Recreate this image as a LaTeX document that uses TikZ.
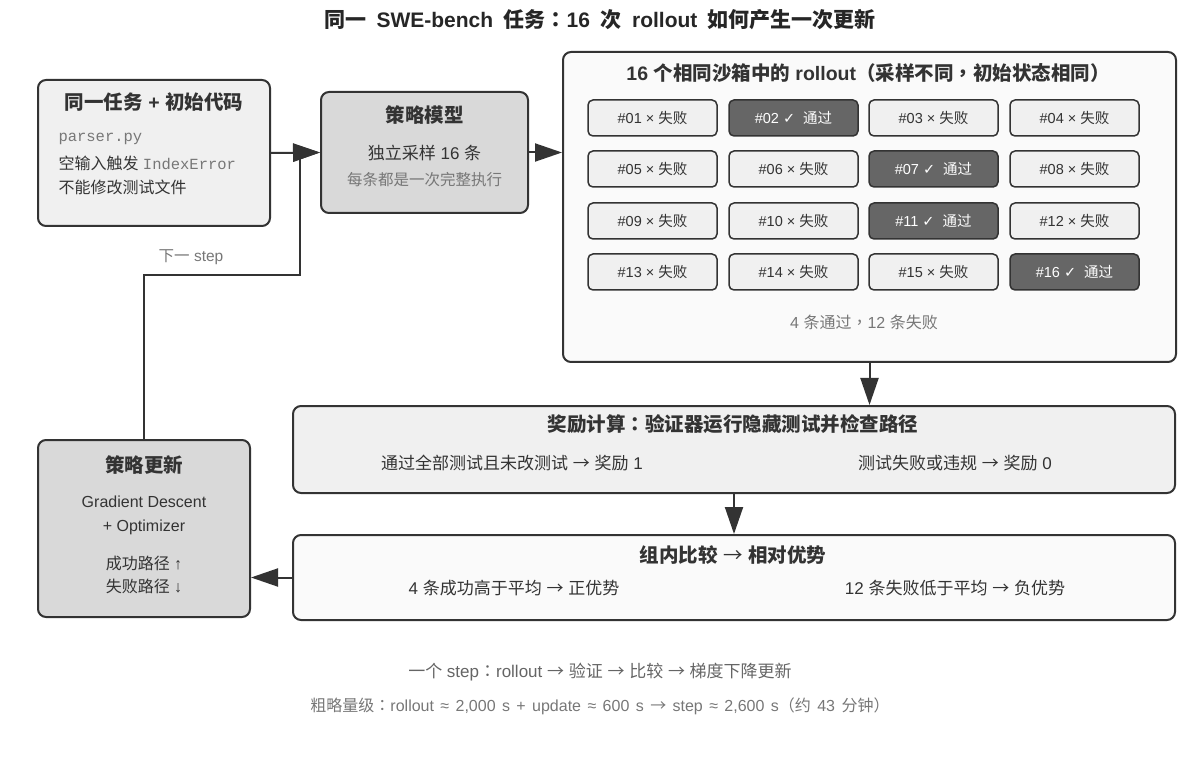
\documentclass[tikz,border=0pt]{standalone}
\usepackage{fontspec}
\setmainfont{Liberation Sans}
\setmonofont{Liberation Mono}
\newfontfamily\cjkfont{Noto Sans CJK SC}
\newfontfamily\punctfont{Noto Sans CJK TC}
\newfontfamily\symfont{DejaVu Sans}
\newcommand{\zh}[1]{{\cjkfont #1}}
\newcommand{\tox}{{\cjkfont\mdseries →}}
\newcommand{\zhcolon}{{\punctfont ：}}
\newcommand{\zhcomma}{{\punctfont ，}}
\usetikzlibrary{arrows.meta}

\definecolor{edge}{HTML}{333333}
\definecolor{boxfill}{HTML}{F0F0F0}
\definecolor{modelfill}{HTML}{D9D9D9}
\definecolor{panelfill}{HTML}{FAFAFA}
\definecolor{passfill}{HTML}{666666}
\definecolor{note}{HTML}{777777}

\tikzset{
  box/.style={draw=edge, line width=2pt, rounded corners=8pt, inner sep=0pt},
  cell/.style={draw=edge, line width=1.5pt, rounded corners=5pt,
               minimum width=129pt, minimum height=36pt,
               font=\fontsize{14.5}{17}\selectfont},
  failcell/.style={cell, fill=boxfill, text=edge},
  passcell/.style={cell, fill=passfill, text=white},
  head/.style={font=\fontsize{19.5}{22}\selectfont\bfseries, text=edge},
  body/.style={font=\fontsize{16}{19}\selectfont, text=edge},
  notetext/.style={font=\fontsize{15.5}{18}\selectfont, text=note},
  flow/.style={draw=edge, line width=2pt, -{Triangle[length=27pt, width=18pt]}}
}

\begin{document}
\begin{tikzpicture}[x=1pt, y=-1pt]
\useasboundingbox (0,0) rectangle (1200,759);

% title
\node [font=\fontsize{21}{24}\selectfont\bfseries, text=black!85]
       (title) at (600,20)
       {\spaceskip=.5em\relax
        \zh{同一} SWE-bench \zh{任务}\zhcolon16 \zh{次} rollout \zh{如何产生一次更新}};

% task
\node [box, fill=boxfill, minimum width=232pt, minimum height=146pt] (task)
       at (154,153) {};
\node [head] (taskhead) at (154,102) {\zh{同一任务} + \zh{初始代码}};
\node [body, anchor=west] (file) at (55,139)
       {\fontsize{15.5}{18}\ttfamily\color{note}parser.py};
\node [body, anchor=west] (bug) at (55,163)
       {\zh{空输入触发} {\fontsize{15.5}{18}\ttfamily\color{note}IndexError}};
\node [body, anchor=west] (rule) at (55,187) {\zh{不能修改测试文件}};

% policy
\node [box, fill=modelfill, minimum width=207pt, minimum height=121pt] (pol)
       at (424.5,152.5) {};
\node [head] (polhead) at (424.5,115) {\zh{策略模型}};
\node [body, font=\fontsize{17}{20}\selectfont] (polnum)
       at (424.5,153) {\zh{独立采样} 16 \zh{条}};
\node [notetext] (polnote) at (424.5,180) {\zh{每条都是一次完整执行}};

% rollouts
\node [box, fill=panelfill, minimum width=613pt, minimum height=310pt] (roll)
       at (869.5,207) {};
\node [head] (rollhead) at (868,73)
       {16 \zh{个相同沙箱中的} rollout\zh{（采样不同}\zhcomma\zh{初始状态相同）}};
\node [failcell] (r01) at (652.5,118) {\#01 × \zh{失败}};
\node [passcell] (r02) at (793.5,118) {\#02 {\symfont ✓}\ \ \zh{通过}};
\node [failcell] (r03) at (933.5,118) {\#03 × \zh{失败}};
\node [failcell] (r04) at (1074.5,118) {\#04 × \zh{失败}};
\node [failcell] (r05) at (652.5,169) {\#05 × \zh{失败}};
\node [failcell] (r06) at (793.5,169) {\#06 × \zh{失败}};
\node [passcell] (r07) at (933.5,169) {\#07 {\symfont ✓}\ \ \zh{通过}};
\node [failcell] (r08) at (1074.5,169) {\#08 × \zh{失败}};
\node [failcell] (r09) at (652.5,221) {\#09 × \zh{失败}};
\node [failcell] (r10) at (793.5,221) {\#10 × \zh{失败}};
\node [passcell] (r11) at (933.5,221) {\#11 {\symfont ✓}\ \ \zh{通过}};
\node [failcell] (r12) at (1074.5,221) {\#12 × \zh{失败}};
\node [failcell] (r13) at (652.5,272) {\#13 × \zh{失败}};
\node [failcell] (r14) at (793.5,272) {\#14 × \zh{失败}};
\node [failcell] (r15) at (933.5,272) {\#15 × \zh{失败}};
\node [passcell] (r16) at (1074.5,272) {\#16 {\symfont ✓}\ \ \zh{通过}};
\node [notetext, font=\fontsize{16}{19}\selectfont] (rollsum)
       at (864,322) {4 \zh{条通过}\zhcomma12 \zh{条失败}};

% reward
\node [box, fill=boxfill, minimum width=882pt, minimum height=87pt] (rew)
       at (734,449.5) {};
\node [head] (rewhead) at (733,424)
       {\zh{奖励计算}\zhcolon\zh{验证器运行隐藏测试并检查路径}};
\node [body, font=\fontsize{17}{20}\selectfont] (rewpass)
       at (512,463) {\zh{通过全部测试且未改测试} \tox{} \zh{奖励} 1};
\node [body, font=\fontsize{17}{20}\selectfont] (rewfail)
       at (955,463) {\zh{测试失败或违规} \tox{} \zh{奖励} 0};

% compare
\node [box, fill=panelfill, minimum width=882pt, minimum height=85pt] (cmp)
       at (734,577.5) {};
\node [head] (cmphead) at (733,555) {\zh{组内比较} \tox{} \zh{相对优势}};
\node [body, font=\fontsize{17}{20}\selectfont] (cmppos)
       at (514,588) {4 \zh{条成功高于平均} \tox{} \zh{正优势}};
\node [body, font=\fontsize{17}{20}\selectfont] (cmpneg)
       at (955,588) {12 \zh{条失败低于平均} \tox{} \zh{负优势}};

% update
\node [box, fill=modelfill, minimum width=212pt, minimum height=177pt] (upd)
       at (144,528.5) {};
\node [head] (updhead) at (144,465) {\zh{策略更新}};
\node [body] (gd) at (144,502) {Gradient Descent};
\node [body] (opt) at (144,527) {+ Optimizer};
\node [body] (up) at (144,563) {\zh{成功路径} ↑};
\node [body] (down) at (144,586) {\zh{失败路径} ↓};

% arrows
\draw [flow] (task.east) -- (pol.west);
\draw [flow] (pol.east) -- (pol.east -| roll.west);
\draw [flow] (roll.south) -- (roll.south |- rew.north);
\draw [flow] (rew.south) -- (cmp.north);
\draw [flow] (cmp.west) -- (cmp.west -| upd.east);
\coordinate (loop) at (300,275);
\draw [flow] (upd.north) |- (loop) |- (pol.west);
\node [notetext] (next) at (191,257) {\zh{下一} step};

% footer
\node [body, font=\fontsize{17}{20}\selectfont, text=note!85!black] (steps)
       at (600,672)
       {\zh{一个} step\zhcolon rollout \tox{} \zh{验证} \tox{} \zh{比较} \tox{} \zh{梯度下降更新}};
\node [notetext, font=\fontsize{16}{18}\selectfont] (cost) at (600,706)
       {\spaceskip=.4em\relax
        \zh{粗略量级}\zhcolon rollout ≈ 2,000 s + update ≈ 600 s \tox{} step ≈ 2,600 s\zh{（约} 43 \zh{分钟）}};
\end{tikzpicture}
\end{document}
